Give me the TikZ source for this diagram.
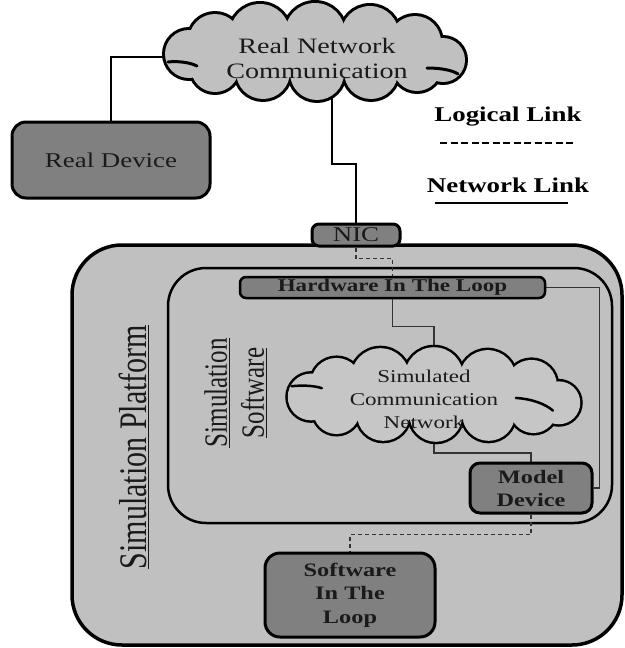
\documentclass[tikz,border=0pt]{standalone}
\usepackage{fontspec}
\usepackage{graphicx}
\setmainfont{Liberation Serif}
\newfontfamily\wf{Liberation Serif}[FakeStretch=1.28]
\pgfdeclarelayer{back}
\pgfdeclarelayer{lines}
\pgfsetlayers{back,lines,main}
\definecolor{lightfill}{HTML}{C0C0C0}
\definecolor{cloudfill}{HTML}{C6C6C6}
\definecolor{boxfill}{HTML}{808080}
\definecolor{ink}{HTML}{1A1A1A}
\definecolor{wire}{HTML}{333333}
\tikzset{
  devbox/.style={draw=black, line width=3pt, fill=boxfill, text=ink, align=center, inner sep=0pt},
  netlink/.style={draw=black, line width=2pt},
  simlink/.style={draw=wire, line width=1.3pt},
  loglink/.style={draw=wire, line width=1.3pt, dash pattern=on 4pt off 3pt},
  curl/.style={draw=black, line width=3pt, line cap=round},
}
% puffs of a cloud: offset x / offset y / radius
\def\cloudpuffs{-100/-12/26, -55/-18/30, 0/-19/30, 55/-17/29, 100/-10/26,
  -100/16/24, -52/20/27, 2/21/27, 56/20/27, 102/15/24, -126/2/24, 128/8/22}
% cloud outline: #1 centre, #2 scale, #3 fill colour, #4 doubled outline width
\newcommand\drawcloud[4]{%
  \begin{scope}[shift={#1}, scale=#2]
    \foreach \px/\py/\pr in \cloudpuffs {\draw[line width=#4] (\px,\py) circle[radius=\pr];}
    \draw[line width=#4] (0,0) ellipse[x radius=110, y radius=26];
    \foreach \px/\py/\pr in \cloudpuffs {\fill[#3] (\px,\py) circle[radius=\pr];}
    \fill[#3] (0,0) ellipse[x radius=110, y radius=26];
  \end{scope}}
\begin{document}
\begin{tikzpicture}[x=1pt, y=-1pt]
\useasboundingbox (0,0) rectangle (624,648);

% enclosing areas
\begin{pgfonlayer}{back}
  \node[draw=black, line width=3.5pt, fill=lightfill, rounded corners=50pt,
        minimum width=550pt, minimum height=400pt, inner sep=0pt] (platform) at (347,445) {};
  \node[draw=black, line width=2.5pt, fill=lightfill, rounded corners=38pt,
        minimum width=444pt, minimum height=255pt, inner sep=0pt] (software) at (390,395.5) {};
\end{pgfonlayer}

% real network cloud
\drawcloud{(315,52)}{1}{lightfill}{6pt}
\begin{scope}[shift={(315,52)}]
  \draw[curl] (112,16) .. controls (125,16) and (137,18) .. (143,22);
  \draw[curl] (-147,10) .. controls (-138,9) and (-126,10) .. (-118,14);
\end{scope}
\node[minimum width=300pt, minimum height=95pt, inner sep=0pt] (cloudR) at (315,52) {};
\node[text=ink, align=center, font=\wf\fontsize{22}{25}\selectfont] (cloudRtxt) at (317,58) {Real Network\\Communication};

\node[devbox, rounded corners=14pt, minimum width=198pt, minimum height=76pt,
      font=\wf\fontsize{21}{25}\selectfont] (realdev) at (111,160) {Real Device};

\node[devbox, rounded corners=7pt, minimum width=88pt, minimum height=22pt,
      font=\wf\fontsize{21}{24}\selectfont] (nic) at (356,235) {NIC};

% simulation side
\node[devbox, line width=2.5pt, rounded corners=6pt, minimum width=305pt, minimum height=21pt,
      font=\wf\bfseries\fontsize{18}{20}\selectfont] (hil) at (392.5,287.5) {Hardware In The Loop};

\drawcloud{(434,395)}{0.975}{cloudfill}{5pt}
\begin{scope}[shift={(434,395)}, scale=0.975]
  \draw[curl, line width=2.5pt] (84,3) .. controls (100,4) and (114,9) .. (122,16);
  \draw[curl, line width=2.5pt] (-146,-9) .. controls (-137,-10) and (-124,-10) .. (-115,-7);
\end{scope}
\node[minimum width=292pt, minimum height=94pt, inner sep=0pt] (cloudS) at (434,395) {};
\node[text=ink, align=center, font=\wf\fontsize{18}{23}\selectfont] (cloudStxt) at (424,399) {Simulated\\Communication\\Network};

\node[devbox, rounded corners=10pt, minimum width=122pt, minimum height=50pt,
      font=\wf\bfseries\fontsize{19}{23}\selectfont] (model) at (531,488) {Model\\Device};

\node[devbox, rounded corners=15pt, minimum width=170pt, minimum height=84pt,
      font=\wf\bfseries\fontsize{19}{23.5}\selectfont] (sil) at (350,595) {Software\\In The\\Loop};

% rotated area titles
\node[rotate=90, text=ink, inner sep=0pt] (platformtxt) at (134,447)
  {\scalebox{1}[1.3]{\fontsize{30}{36}\selectfont\underline{Simulation Platform}}};
\node[rotate=90, text=ink, inner sep=0pt] (softwaretxt) at (238,393)
  {\scalebox{1}[1.3]{\fontsize{25}{28.5}\selectfont\begin{tabular}{@{}c@{}}\underline{Simulation}\\\underline{Software}\end{tabular}}};

% legend
\node[text=black, font=\wf\bfseries\fontsize{21}{24}\selectfont] (loglbl) at (508,117) {Logical Link};
\node[text=black, font=\wf\bfseries\fontsize{21}{24}\selectfont] (netlbl) at (508,185) {Network Link};
\coordinate (logA) at (440,143);
\coordinate (logB) at (576,143);
\coordinate (netA) at (435,203);
\coordinate (netB) at (568,203);
\draw[black, line width=2.5pt, dash pattern=on 7pt off 3.5pt] (logA) -- (logB);
\draw[black, line width=2.5pt] (netA) -- (netB);

% connectors
\begin{pgfonlayer}{lines}
  \draw[netlink] ([yshift=-5pt]cloudR.center) -| (realdev.north);
  \draw[netlink] (cloudR.center -| 332,0) -- (332,164) -| (nic.north);
  \draw[loglink] (nic.south) -- ++(0,11) -| (hil.north);
  \draw[simlink] (hil.south) -- ++(0,27) -| (cloudS.center);
  \draw[simlink] (hil.east) -- ++(53,0) |- (model.east);
  \draw[simlink] (cloudS.center) -- (cloudS.center |- 0,453) -| (model.north);
  \draw[loglink] (model.south) -- ++(0,20) -| (sil.north);
\end{pgfonlayer}
\end{tikzpicture}
\end{document}
